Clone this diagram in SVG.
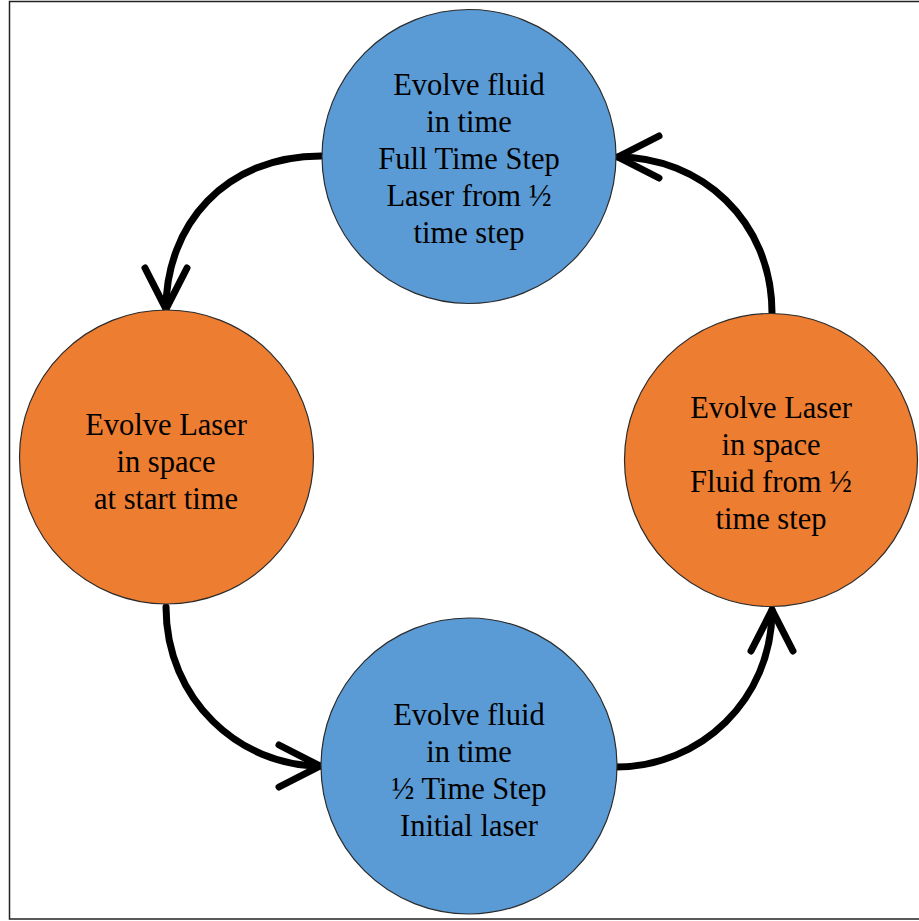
<svg xmlns="http://www.w3.org/2000/svg" width="919" height="921" viewBox="0 0 919 921">
  <style>
    .blue { fill: #5B9BD5; stroke: #2b2b2b; stroke-width: 1.2; }
    .orange { fill: #ED7D31; stroke: #2b2b2b; stroke-width: 1.2; }
    .lbl { font-family: "Liberation Serif", "Times New Roman", serif; font-size: 30.5px; fill: #000; text-anchor: middle; }
    .conn { fill: none; stroke: #000; stroke-width: 7; stroke-linecap: round; }
  </style>
  <defs>
    <marker id="chev" markerUnits="userSpaceOnUse" orient="auto" markerWidth="100" markerHeight="100" refX="0" refY="0" viewBox="-50 -50 100 100" overflow="visible">
      <path d="M-41,-21 L0,0 L-41,21" fill="none" stroke="#000" stroke-width="7" stroke-linecap="round" stroke-linejoin="miter"/>
    </marker>
  </defs>
  <rect x="0" y="0" width="919" height="921" fill="#fff"/>
  <rect x="9.5" y="1.5" width="915" height="917.5" fill="none" stroke="#222" stroke-width="1.5"/>

  <g id="connectors">
    <path class="conn" d="M321,156 C225,156 166,225 166,309" marker-end="url(#chev)"/>
    <path class="conn" d="M772,313 C772,220 700,157 618,157" marker-end="url(#chev)"/>
    <path class="conn" d="M166,607 C166,700 240,766 320,766" marker-end="url(#chev)"/>
    <path class="conn" d="M616,767 C700,767 772,700 772,610" marker-end="url(#chev)"/>
  </g>

  <g id="node-top">
    <circle class="blue" cx="469" cy="156.5" r="147"/>
    <text class="lbl" x="469" y="95">Evolve fluid</text>
    <text class="lbl" x="469" y="132">in time</text>
    <text class="lbl" x="469" y="169">Full Time Step</text>
    <text class="lbl" x="469" y="206">Laser from ½</text>
    <text class="lbl" x="469" y="243">time step</text>
  </g>

  <g id="node-left">
    <circle class="orange" cx="166.5" cy="457" r="147"/>
    <text class="lbl" x="166" y="435">Evolve Laser</text>
    <text class="lbl" x="166" y="472">in space</text>
    <text class="lbl" x="166" y="509">at start time</text>
  </g>

  <g id="node-right">
    <circle class="orange" cx="771" cy="460" r="146.5"/>
    <text class="lbl" x="771" y="418">Evolve Laser</text>
    <text class="lbl" x="771" y="455">in space</text>
    <text class="lbl" x="771" y="492">Fluid from ½</text>
    <text class="lbl" x="771" y="529">time step</text>
  </g>

  <g id="node-bottom">
    <circle class="blue" cx="469" cy="766" r="148"/>
    <text class="lbl" x="469" y="725">Evolve fluid</text>
    <text class="lbl" x="469" y="762">in time</text>
    <text class="lbl" x="469" y="799">½ Time Step</text>
    <text class="lbl" x="469" y="836">Initial laser</text>
  </g>
</svg>
